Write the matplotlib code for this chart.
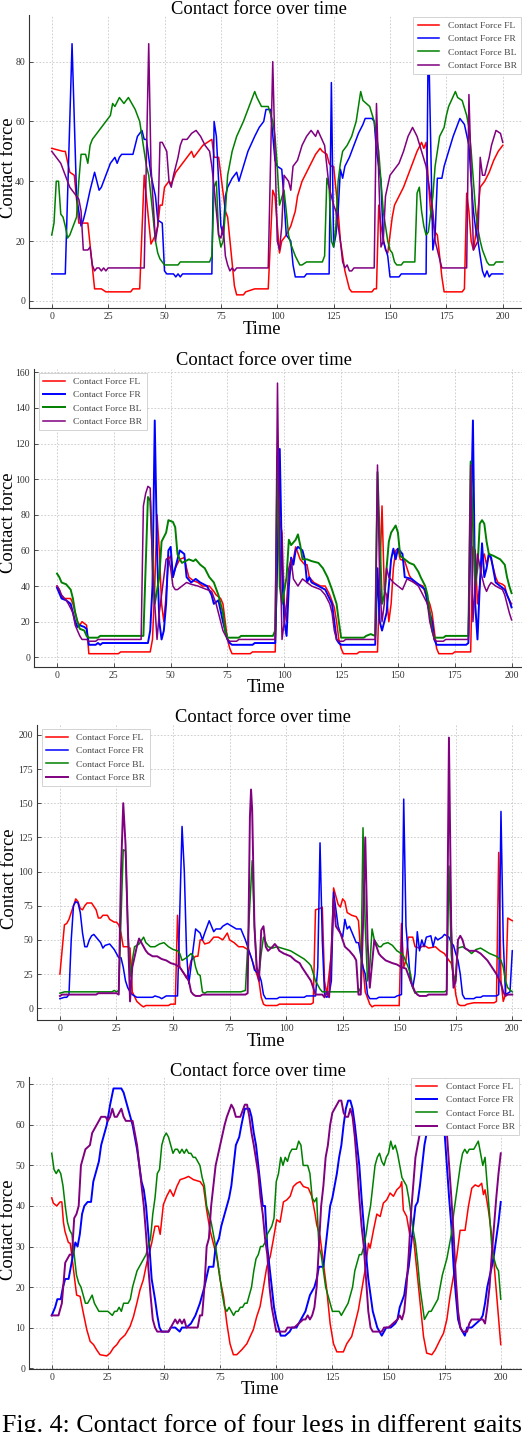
import matplotlib
matplotlib.use('Agg')
import matplotlib.pyplot as plt

plt.rcParams['font.family'] = ['Liberation Serif', 'DejaVu Serif']

# ---- data: (time, contact force) vertices ----
p1_fl = [(0,51),(5,50),(6,50),(8,43),(10,42),(12,26),(16,26),(19,4),(22,4),(24,3),(35,3),(36,4),(39,4),(41,42),(44,19),(46,22),(47,25),(48,32),(49,32),(50,38),(52,40),(53,39),(55,43),(58,46),(60,48),(62,50),(63,48),(65,50),(67,52),(69,53),(71,54),(72,48),(74,48),(75,42),(77,30),(78,28),(81,5),(82,2),(85,2),(86,3),(90,4),(96,4),(98,37),(99,35),(101,16),(102,20),(104,22),(106,25),(108,30),(109,35),(111,40),(113,43),(115,46),(117,49),(119,51),(120,50),(122,49),(123,46),(124,45),(125,45),(127,30),(128,20),(130,10),(132,4),(133,3),(142,3),(143,4),(144,4),(145,32),(146,25),(148,17),(149,16),(150,22),(151,28),(152,32),(154,35),(156,38),(158,42),(160,46),(161,48),(162,50),(164,53),(165,51),(166,53),(167,40),(168,30),(170,23),(171,22),(172,15),(173,8),(174,3),(182,3),(183,4),(184,36),(185,30),(186,20),(187,17),(188,22),(189,30),(190,38),(192,40),(194,43),(195,45),(196,47),(198,50),(200,52)]
p1_fr = [(0,9),(6,9),(9,86),(11,35),(13,25),(14,27),(15,30),(17,37),(19,43),(21,37),(22,38),(24,42),(26,46),(28,48),(29,46),(30,48),(31,49),(36,49),(37,52),(38,55),(40,57),(41,54),(42,54),(43,48),(44,42),(46,35),(47,27),(49,26),(50,10),(51,9),(54,9),(55,8),(56,9),(57,8),(58,9),(71,9),(72,60),(73,55),(74,40),(75,25),(76,22),(77,35),(78,38),(80,41),(82,43),(83,40),(85,45),(87,50),(90,55),(92,58),(94,60),(95,64),(97,64),(99,47),(100,45),(102,44),(103,34),(104,22),(106,20),(107,12),(108,8),(112,8),(113,9),(123,9),(124,73),(125,18),(126,22),(127,30),(128,44),(129,41),(130,45),(132,48),(134,52),(136,56),(138,59),(139,61),(142,61),(143,60),(144,50),(146,40),(147,20),(149,15),(150,8),(154,8),(155,9),(166,9),(167,92),(169,17),(170,22),(171,41),(173,41),(174,45),(176,50),(178,55),(180,59),(181,61),(183,59),(185,52),(186,40),(187,30),(188,24),(189,20),(191,10),(192,8),(193,10),(194,8),(195,9),(200,9)]
p1_bl = [(0,22),(1,26),(2,40),(3,40),(4,29),(5,28),(6,25),(7,21),(8,22),(10,26),(11,28),(12,40),(13,49),(15,49),(16,46),(17,52),(18,54),(20,56),(22,58),(24,60),(26,62),(27,66),(28,65),(30,68),(32,66),(34,68),(37,64),(39,60),(40,55),(42,45),(43,42),(44,35),(46,20),(47,16),(48,14),(49,13),(50,12),(56,12),(57,13),(70,13),(71,15),(72,38),(73,40),(74,22),(75,18),(76,20),(77,30),(78,42),(80,50),(82,55),(85,60),(87,64),(88,66),(90,70),(91,68),(93,65),(96,65),(98,60),(99,55),(100,45),(101,32),(103,37),(104,30),(105,22),(106,19),(107,17),(108,15),(110,12),(111,12),(113,13),(120,13),(121,15),(122,41),(123,38),(124,20),(125,18),(126,25),(127,40),(128,46),(129,50),(131,52),(133,55),(135,60),(136,65),(137,70),(138,67),(141,65),(143,60),(145,50),(146,40),(147,30),(148,25),(149,20),(150,17),(151,16),(152,13),(153,12),(155,12),(156,13),(161,13),(162,36),(163,38),(164,30),(165,25),(166,22),(167,23),(169,35),(170,45),(171,50),(172,55),(174,58),(175,62),(176,65),(179,70),(180,68),(182,67),(184,62),(185,58),(186,50),(187,40),(188,30),(189,24),(190,20),(191,17),(193,13),(194,12),(196,12),(197,13),(200,13)]
p1_br = [(0,50),(1,49),(2,48),(4,46),(5,44),(6,42),(8,38),(10,36),(12,34),(13,30),(14,17),(16,17),(17,18),(18,12),(19,10),(20,11),(21,11),(22,10),(23,11),(24,10),(25,11),(41,11),(43,86),(44,45),(46,20),(47,25),(48,53),(49,53),(51,50),(52,40),(53,38),(54,42),(56,48),(57,52),(58,54),(60,54),(62,56),(64,57),(66,55),(68,52),(70,50),(71,45),(72,38),(73,30),(74,22),(75,21),(76,25),(77,15),(78,12),(79,10),(80,11),(81,10),(82,11),(96,11),(98,80),(100,20),(101,17),(102,25),(103,42),(105,40),(106,37),(107,45),(109,47),(111,52),(113,55),(115,57),(117,55),(118,57),(121,52),(122,45),(123,38),(124,35),(125,32),(126,30),(127,25),(128,20),(129,13),(130,11),(131,12),(132,10),(133,10),(134,11),(143,11),(144,66),(146,18),(147,20),(148,35),(150,42),(152,44),(154,46),(156,50),(158,55),(160,58),(162,55),(164,50),(166,45),(167,40),(169,30),(170,20),(172,14),(173,11),(184,11),(185,69),(187,17),(189,20),(190,48),(191,42),(192,42),(194,48),(195,52),(197,57),(199,56),(200,53)]

p2_fl = [(0,40),(1,38),(2,34),(3,33),(6,33),(7,30),(8,25),(9,20),(10,18),(11,20),(12,19),(13,18),(14,2),(27,2),(28,3),(41,3),(42,10),(43,40),(44,80),(45,60),(46,30),(47,20),(48,35),(49,55),(50,57),(51,45),(52,50),(54,55),(56,56),(57,50),(58,45),(60,43),(62,42),(64,40),(67,40),(69,37),(70,35),(72,33),(73,30),(74,20),(75,10),(76,5),(77,2),(85,2),(86,3),(96,3),(97.5,80),(99,70),(100,30),(101,20),(102,45),(104,55),(105,62),(107,55),(109,52),(110,52),(111,45),(113,42),(116,40),(118,40),(120,35),(122,28),(123,20),(124,10),(125,5),(126,2),(132,2),(133,3),(141,3),(143,85),(144,38),(145,35),(146,20),(147,30),(148,50),(149,60),(150,61),(151,55),(153,54),(155,46),(157,42),(159,41),(161,40),(162,36),(163,33),(164,30),(165,25),(166,15),(167,5),(168,2),(174,2),(175,3),(182,3),(183,62),(184,60),(185,30),(186,40),(187,55),(188,58),(189,52),(190,58),(191,55),(192,50),(193,45),(194,42),(196,41),(197,40),(198,35),(199,32),(200,30)]
p2_fr = [(0,39),(1,36),(2,33),(4,32),(6,30),(7,25),(8,20),(9,17),(10,18),(12,17),(13,16),(14,7),(17,7),(18,8),(19,7),(20,8),(40,8),(41,15),(42,40),(43,133),(44,60),(45,20),(46,10),(47,15),(48,30),(49,60),(50,62),(51,45),(52,50),(54,60),(56,58),(57,45),(59,42),(61,44),(63,42),(66,40),(68,35),(69,30),(71,32),(73,20),(75,10),(76,8),(77,7),(86,7),(87,8),(96,8),(98,117),(99,50),(100,20),(101,12),(102,40),(103,56),(104,52),(105,60),(106,62),(108,60),(109,55),(110,42),(111,45),(112,42),(115,40),(118,38),(121,30),(122,20),(123,10),(124,8),(125,7),(140,7),(141,50),(142,20),(143,15),(145,25),(147,55),(148,61),(149,55),(150,61),(152,58),(153,45),(156,44),(158,42),(160,40),(162,38),(163,30),(165,20),(166,10),(167,7),(180,7),(181,8),(183,133),(184,30),(185,10),(186,40),(187,64),(188,45),(189,50),(190,58),(191,56),(193,42),(195,40),(197,38),(198,35),(199,32),(200,28)]
p2_bl = [(0,47),(1,45),(2,42),(4,41),(6,38),(7,33),(8,25),(9,20),(10,16),(12,15),(13,12),(14,11),(18,11),(19,12),(38,12),(40,90),(41,88),(43,30),(45,45),(46,65),(48,70),(49,77),(51,76),(52,73),(53,58),(54,55),(55,53),(58,55),(60,54),(61,55),(63,52),(65,50),(67,45),(69,42),(71,35),(73,25),(74,15),(75,11),(80,11),(81,12),(95,12),(96,15),(97,113),(98,40),(99,30),(101,45),(102,66),(103,63),(105,66),(106,69),(107,63),(108,55),(110,55),(112,54),(115,53),(117,50),(119,45),(121,38),(123,30),(124,20),(125,11),(135,11),(136,12),(138,13),(140,12),(141,104),(143,30),(144,35),(145,50),(146,65),(147,70),(149,74),(150,70),(151,57),(153,55),(155,53),(157,52),(159,48),(160,45),(162,40),(163,35),(164,25),(165,15),(166,11),(170,11),(171,12),(181,12),(182,110),(184,40),(185,50),(186,75),(187,77),(188,75),(189,65),(190,58),(192,57),(195,55),(197,52),(198,45),(199,40),(200,36)]
p2_br = [(0,40),(1,38),(2,35),(4,32),(5,30),(7,25),(8,18),(9,15),(10,12),(11,10),(13,10),(14,9),(17,9),(18,10),(37,10),(38,85),(39,92),(40,96),(41,95),(42,50),(44,10),(45,25),(47,45),(48,55),(49,56),(50,50),(51,40),(52,38),(53,38),(55,40),(57,42),(59,41),(62,40),(66,38),(68,37),(70,30),(71,25),(72,20),(73,15),(75,10),(76,9),(79,9),(80,10),(96,10),(97,154),(97.5,100),(99,10),(100,20),(101,30),(102,50),(103,55),(104,44),(106,40),(107,42),(108,44),(110,42),(112,40),(116,38),(118,35),(120,30),(121,25),(122,15),(123,10),(124,9),(126,9),(127,10),(140,10),(141,108),(142,40),(143,20),(144,30),(145,50),(146,45),(148,42),(150,40),(152,38),(154,44),(157,42),(159,40),(161,35),(163,30),(164,20),(166,10),(167,9),(170,9),(171,10),(181,10),(182,108),(183,20),(184,40),(185,58),(187,45),(188,40),(189,37),(190,40),(191,42),(193,40),(196,38),(197,35),(198,30),(199,25),(200,21)]

p3_fl = [(0,25),(2,61),(3,62),(4,65),(5,70),(6,75),(7,80),(8,78),(9,73),(10,72),(11,75),(12,77),(14,77),(16,72),(17,66),(18,66),(19,68),(21,68),(22,65),(24,63),(25,63),(26,61),(27,55),(28,45),(30,45),(31,44),(32,12),(34,5),(36,2),(37,1),(38,2),(48,2),(49,3),(51,3),(52,68),(53,30),(55,25),(56,22),(57,28),(58,35),(60,38),(61,38),(62,50),(63,50),(64,47),(66,48),(68,52),(70,52),(72,50),(74,55),(75,50),(77,48),(79,45),(81,45),(83,43),(84,40),(85,35),(86,30),(87,25),(88,20),(89,8),(90,3),(91,2),(96,2),(97,3),(111,3),(112,4),(113,72),(115,73),(116,74),(117,20),(118,10),(120,40),(121,88),(123,76),(124,74),(125,80),(126,78),(127,70),(129,68),(131,67),(132,64),(133,40),(134,30),(135,12),(137,3),(138,1),(139,2),(150,2),(151,62),(152,30),(153,35),(154,52),(156,52),(157,45),(159,44),(161,46),(163,44),(166,45),(168,42),(170,40),(172,35),(173,33),(174,25),(175,10),(176,3),(177,2),(179,2),(180,3),(183,4),(192,4),(193,5),(194,114),(195,20),(196,5),(197,10),(198,66),(200,64)]
p3_fr = [(0,7),(2,8),(3,8),(4,10),(5,50),(6,75),(7,78),(8,77),(9,70),(10,55),(11,45),(12,45),(13,50),(14,53),(15,54),(17,50),(18,48),(19,44),(20,46),(22,47),(24,43),(25,40),(26,37),(27,37),(28,30),(29,20),(30,15),(31,12),(32,10),(33,9),(34,8),(41,8),(42,9),(44,8),(45,7),(46,8),(47,9),(52,9),(54,133),(55,100),(56,40),(57,18),(59,45),(60,58),(62,55),(63,50),(64,55),(66,64),(67,60),(68,56),(69,58),(71,58),(72,60),(74,62),(76,60),(78,58),(80,58),(82,50),(83,45),(85,35),(86,28),(88,25),(89,20),(90,10),(91,7),(96,7),(97,8),(108,8),(109,9),(113,9),(114,30),(115,121),(116,50),(117,10),(118,8),(119,10),(120,20),(121,85),(123,60),(124,55),(125,52),(126,65),(127,58),(128,60),(130,52),(131,48),(132,48),(134,30),(135,25),(136,10),(137,7),(140,7),(141,8),(148,8),(149,9),(151,10),(152,153),(153,60),(155,20),(156,15),(157,25),(158,56),(159,42),(160,50),(161,45),(162,52),(164,53),(165,45),(166,52),(167,50),(169,52),(170,54),(172,52),(173,48),(174,46),(175,40),(176,35),(177,25),(178,10),(179,7),(183,7),(184,8),(186,8),(187,9),(193,9),(194,10),(195,144),(196,50),(197,10),(199,12),(200,42)]
p3_bl = [(0,11),(2,12),(23,12),(24,13),(25,12),(26,13),(28,116),(29,115),(30,60),(31,23),(32,35),(33,45),(35,47),(37,52),(38,48),(40,45),(42,45),(44,47),(46,48),(48,45),(50,43),(52,42),(53,40),(54,35),(56,37),(58,40),(59,38),(60,30),(61,25),(62,24),(63,12),(64,11),(65,12),(80,12),(82,13),(85,108),(86,60),(87,30),(88,25),(89,40),(90,52),(92,45),(94,44),(96,45),(98,44),(100,43),(102,42),(104,40),(106,38),(108,36),(110,33),(111,31),(113,20),(115,14),(116,12),(132,12),(133,15),(134,132),(135,60),(136,20),(137,30),(138,58),(139,50),(141,45),(142,45),(143,47),(145,48),(147,46),(149,42),(151,40),(152,38),(154,30),(155,25),(156,15),(157,11),(158,12),(170,12),(171,13),(172,104),(173,40),(174,20),(175,25),(176,44),(178,45),(180,43),(182,40),(184,43),(186,44),(188,42),(190,40),(193,38),(195,35),(196,30),(197,20),(198,15),(200,12)]
p3_br = [(0,9),(1,10),(16,10),(17,11),(25,11),(26,10),(27,100),(28,150),(29,120),(30,60),(31,5),(32,30),(34,45),(35,51),(36,48),(38,42),(39,40),(41,38),(43,38),(45,36),(47,35),(49,33),(51,32),(53,30),(55,25),(57,20),(58,12),(59,10),(60,9),(62,9),(63,10),(82,10),(83,11),(84,140),(84.5,160),(85,145),(86,60),(87,30),(88,20),(89,57),(90,60),(91,45),(92,42),(94,45),(95,47),(96,45),(97,42),(99,40),(102,38),(104,35),(106,33),(107,30),(109,25),(111,20),(113,10),(116,10),(117,8),(118,12),(119,8),(120,40),(121,80),(122,60),(124,55),(126,45),(128,42),(130,38),(131,35),(132,10),(133,10),(134,60),(135,125),(136,50),(137,15),(139,50),(141,40),(142,38),(144,35),(147,33),(149,32),(151,30),(153,29),(155,20),(157,12),(158,10),(159,9),(162,9),(163,10),(171,10),(172,198),(173,60),(174,15),(175,20),(176,50),(177,53),(178,50),(179,44),(181,42),(184,42),(186,40),(189,35),(191,30),(193,25),(195,18),(196,12),(197,9),(198,10),(200,10)]

p4_fl = [(0,42),(0.7,40.7),(2.2,40),(3.7,41),(4.5,41),(5.2,36),(5.9,33.7),(7.4,31),(8.2,30.8),(8.9,28),(10.4,21),(11.1,18),(12.6,17.7),(14.1,13.5),(15.6,9.5),(17.1,6.6),(18.6,5.8),(20,4.5),(21.5,3.3),(24.5,3),(26,3.7),(27.5,5),(29,5.8),(30.4,7),(32.7,8.2),(34.9,10.3),(36.4,12.7),(37.9,16),(39.3,19.3),(40.8,21.8),(42.3,25.9),(44.5,30.8),(46,35),(47.5,35),(48.3,33),(49.7,40.3),(51.2,42.4),(52.7,44),(54.2,42.4),(55.7,44.8),(57.2,46.5),(59.4,46.9),(60.9,47.3),(63.1,46.5),(66.1,46),(67.6,44.8),(69,39),(70.5,34),(72,30.8),(73.5,27.5),(75,21.8),(76.5,17.7),(78,11),(79.4,6),(80.9,3.3),(82.4,3.3),(84.6,4.5),(86.9,6),(89.8,9.5),(91.3,12.7),(92.8,15.2),(94.3,20),(95.8,25),(97.3,27.5),(98.7,31.7),(100.2,36.6),(101.7,36),(103.2,41),(104.7,41.5),(106.2,42.4),(107.6,44.8),(109.1,45.6),(110.6,46),(112.1,44.8),(114.3,44.4),(115.8,42.4),(117.3,38),(118,35.4),(119.5,32.5),(121,25.9),(122.5,19.3),(124,11),(125.5,6),(127,4),(129.9,4),(131.4,6),(133.6,7.8),(135.1,11),(136.6,14.4),(138.1,19.3),(139.6,24.3),(141.1,30.8),(141.8,29.6),(143.3,34),(144.8,38),(146.3,37.4),(147.7,40.7),(149.2,41.5),(150.7,43.2),(152.2,42.4),(153.7,44),(155.2,44.8),(155.9,46),(156.6,39),(158.1,37.4),(159.6,32.5),(161.1,32.5),(162.6,24.3),(164.1,16),(165.6,7.8),(167,3.7),(169.3,3.3),(170.8,4.5),(173,7),(174.5,8.6),(176,12),(177.4,17.7),(178.9,22.6),(180.4,27.5),(181.9,34),(184.1,34),(185.6,39.9),(187.1,44.4),(188.6,45.2),(190.1,44.8),(191.5,45.6),(192.3,42.8),(193,44),(194.5,39),(196,32.5),(197.5,22.6),(199,12.7),(200,5.8)]
p4_fr = [(0,13),(1.5,15),(2.5,17),(4,17),(5,20),(6,22),(7.5,22),(8.5,25),(9.5,28),(10.5,31),(11.5,30),(12.5,33),(13.5,38),(14.5,40),(16,41),(17.5,41),(18.5,46),(19.5,48),(21,51),(22,55),(23,57),(24.5,60),(26,65),(27.5,69),(31,69),(32,68),(33,66),(35,62),(36,60),(37,57),(38,54),(39,50),(40,46),(41,44),(42,40),(43.5,30),(44.5,22),(46,17),(47,13),(48,10),(49,9),(52,9),(53,10),(55,10),(57,9),(58,10),(60,10),(62,11),(63,12),(64,13),(66,16),(67,18),(68,20),(70,25),(72,25),(73,30),(74.5,32),(75.5,35),(77,38),(78,40),(79,42),(80,45),(81,50),(82,55),(83.5,57),(84.5,60),(86,64),(88,64),(89,62),(90,58),(91,55),(92,50),(93,45),(94,40),(95,40),(96,30),(97,25),(98,20),(99,15),(100,12),(101,10),(102,8),(104,8),(106,9),(107,10),(109,10),(110,11),(112,13),(113,14),(114,16),(115,18),(117,20),(118,22),(119,25),(121,25),(122,30),(123,35),(124,40),(125,42),(126,45),(127,48),(128,52),(129,55),(130,60),(131,64),(132,66),(133,66),(134,64),(135,60),(136,55),(137,50),(138,42),(139,35),(140,28),(141,22),(142,18),(143,14),(144,12),(145,10),(147,8),(148,9),(149,10),(151,10),(153,11),(154,12),(155,15),(157,18),(158,22),(159,25),(160,30),(161,35),(162,40),(163,41),(164,45),(165,50),(166,55),(167,58),(168,62),(170,65),(172,66),(173,65),(174,62),(175,58),(176,50),(177,42),(178,35),(179,25),(180,18),(181,12),(182,10),(184,8),(185,10),(187,10),(189,11),(191,12),(192,13),(193,16),(194,20),(196,25),(197,28),(198,32),(199,36),(200,41)]
p4_bl = [(0,53),(1,49),(2,48),(3,49),(4,48),(5,45),(6,40),(7,36),(8,34),(9,33),(10,28),(11,23),(12,21),(13,20),(14,18),(15,16),(16,16),(17,17),(18,18),(19,16),(20,15),(21,14),(23,14),(25,14),(27,13),(28,14),(29,14),(30,15),(31,14),(32,16),(34,16),(35,17),(36,20),(37,22),(38,24),(39,25),(40,26),(42,28),(43,30),(44,32),(45,38),(46,42),(47,48),(48,49),(49,55),(50,57),(51,58),(52,57),(53,55),(54,53),(55,54),(56,54),(57,53),(58,54),(59,53),(60,54),(61,53),(62,53),(63,52),(64,52),(65,51),(66,50),(67,47),(68,45),(69,40),(70,38),(71,36),(72,33),(73,30),(74,26),(75,22),(76,18),(77,15),(78,14),(79,15),(80,14),(81,13),(82,14),(83,14),(84,15),(85,15),(86,16),(87,16),(88,18),(89,20),(90,24),(91,27),(92,28),(93,30),(94,30),(95,31),(96,33),(97,34),(98,35),(99,37),(100,46),(101,48),(102,52),(103,50),(104,52),(105,51),(106,53),(107,54),(109,54),(110,56),(111,55),(112,50),(114,50),(115,48),(116,42),(117,41),(118,42),(119,30),(120,28),(121,24),(122,20),(123,18),(124,16),(125,14),(128,14),(129,13),(130,14),(131,15),(132,16),(133,18),(134,20),(135,24),(136,26),(137,28),(138,28),(139,30),(140,33),(141,37),(142,40),(143,45),(144,50),(145,52),(146,53),(147,51),(148,50),(149,52),(150,53),(151,56),(152,54),(153,55),(154,53),(155,50),(156,47),(157,46),(158,45),(159,42),(160,38),(161,34),(162,31),(163,26),(164,20),(165,16),(166,12),(167,13),(168,14),(169,14),(170,15),(171,16),(172,17),(173,20),(174,23),(175,25),(176,27),(177,30),(178,33),(179,38),(180,42),(181,46),(182,50),(183,53),(184,54),(185,53),(186,54),(188,54),(190,56),(191,53),(192,50),(193,52),(194,45),(195,38),(196,30),(197,27),(198,25),(199,24),(200,17)]
p4_br = [(0,13),(3,13),(4.5,16),(6,26),(8,28),(9,28),(10,37),(11,38),(12,40),(13,50),(14,52),(15,54),(17,55),(18,58),(20,60),(22,62),(24,62),(25,61),(26,62),(27,64),(28,62),(29,62),(30,63),(31,64),(32,62),(33,61),(36,61),(37,58),(38,55),(39,50),(40,45),(41,40),(42,33),(43,25),(44,18),(45,12),(46,10),(47,9),(52,9),(53,10),(55,12),(56,11),(57,12),(58,11),(59,12),(60,10),(65,10),(66,13),(67,13),(68,20),(69,30),(70,32),(71,40),(72,45),(73,50),(75,55),(77,60),(78,62),(80,65),(81,64),(82,62),(84,62),(86,65),(87,65),(88,62),(89,58),(90,55),(92,48),(93,42),(94,38),(95,32),(96,28),(97,20),(98,15),(99,12),(100,9),(104,9),(105,10),(108,10),(110,11),(112,12),(113,12),(114,13),(115,12),(116,13),(117,15),(118,20),(119,30),(120,40),(121,45),(122,52),(123,55),(124,60),(125,63),(126,64),(127,65),(128,66),(129,66),(130,63),(131,62),(132,62),(133,64),(134,62),(135,57),(136,50),(137,42),(138,35),(139,30),(140,22),(141,14),(142,10),(143,9),(147,9),(148,10),(150,10),(152,11),(154,12),(155,13),(156,12),(157,14),(158,20),(159,28),(160,38),(161,45),(162,52),(163,55),(164,58),(165,60),(166,62),(167,63),(168,64),(169,62),(170,63),(171,65),(172,66),(173,65),(174,64),(175,62),(176,58),(177,50),(178,42),(179,33),(180,22),(181,14),(182,10),(183,9),(185,9),(186,11),(187,12),(192,12),(193,11),(194,15),(195,20),(196,28),(197,35),(198,42),(199,48),(200,53)]

labels = ['Contact Force FL', 'Contact Force FR', 'Contact Force BL', 'Contact Force BR']
colors = ['red', 'blue', 'green', 'purple']
x_ticks = [0, 25, 50, 75, 100, 125, 150, 175, 200]
y_ticks = [[0, 20, 40, 60, 80],
           [0, 20, 40, 60, 80, 100, 120, 140, 160],
           [0, 25, 50, 75, 100, 125, 150, 175, 200],
           [0, 10, 20, 30, 40, 50, 60, 70]]
panels = [[p1_fl, p1_fr, p1_bl, p1_br],
          [p2_fl, p2_fr, p2_bl, p2_br],
          [p3_fl, p3_fr, p3_bl, p3_br],
          [p4_fl, p4_fr, p4_bl, p4_br]]

W, H = 522, 1432
fig = plt.figure(figsize=(W / 100, H / 100), dpi=100)

# layout in pixels: axes box (left, top, right, bottom), ylim, legend, title / label centres
layout = [
    dict(box=(29.2, 15, 525.3, 308), ylim=(-2.4, 95.6), leg=('upper right', 521, 17),
         title=(259, 9.5), ylab=(8.5, 168), xlab=(262, 330), lw=[1.1, 1.1, 1.1, 1.1]),
    dict(box=(34.3, 369, 534.3, 666.7), ylim=(-5.3, 161.9), leg=('upper left', 39, 373),
         title=(264, 360.5), ylab=(8.5, 523), xlab=(266, 687), lw=[1.1, 1.4, 1.4, 1.1]),
    dict(box=(37.3, 725, 534.9, 1020), ylim=(-8.6, 207.2), leg=('upper left', 42, 729),
         title=(263, 717.5), ylab=(10, 879), xlab=(266, 1042), lw=[1.1, 1.1, 1.1, 1.4]),
    dict(box=(29.3, 1076.7, 523.2, 1369.3), ylim=(-0.3, 71.9), leg=('upper right', 519, 1078),
         title=(257.5, 1071.5), ylab=(8.5, 1230), xlab=(260, 1389), lw=[1.1, 1.4, 1.1, 1.4]),
]

for i in range(4):
    lay = layout[i]
    left, top, right, bottom = lay['box']
    ax = fig.add_axes([left / W, 1 - bottom / H, (right - left) / W, (bottom - top) / H])
    for k in range(4):
        t = [p[0] for p in panels[i][k]]
        f = [p[1] for p in panels[i][k]]
        ax.plot(t, f, color=colors[k], lw=lay['lw'][k], label=labels[k])
    ax.set_xlim(-10, 210)
    ax.set_ylim(*lay['ylim'])
    ax.set_xticks(x_ticks)
    ax.set_yticks(y_ticks[i])
    ax.grid(True, color='#c8c8c8', linestyle=(0, (2, 2)), linewidth=0.6)
    ax.set_axisbelow(True)
    ax.spines['top'].set_visible(False)
    ax.spines['right'].set_visible(False)
    ax.spines['left'].set_color('#333333')
    ax.spines['bottom'].set_color('#333333')
    ax.tick_params(direction='in', length=3, width=0.6, labelsize=7, colors='#333333', pad=3)

    loc, lx, ly = lay['leg']
    leg = ax.legend(loc=loc, bbox_to_anchor=(lx / W, 1 - ly / H), bbox_transform=fig.transFigure,
                    fontsize=6.8, frameon=True, fancybox=False, edgecolor='#cccccc', framealpha=1,
                    borderaxespad=0, handlelength=2.3, labelspacing=0.5, borderpad=0.45,
                    handletextpad=0.9)
    leg.get_frame().set_linewidth(0.6)
    for txt in leg.get_texts():
        txt.set_color('#444444')

    tx, ty = lay['title']
    fig.text(tx / W, 1 - ty / H, 'Contact force over time', fontsize=13.3, ha='center', va='center')
    yx, yy = lay['ylab']
    fig.text(yx / W, 1 - yy / H, 'Contact force', fontsize=13.3, rotation=90, ha='center', va='center')
    xx, xy = lay['xlab']
    fig.text(xx / W, 1 - xy / H, 'Time', fontsize=13.3, ha='center', va='center')

fig.text(2 / W, 0.0, 'Fig. 4: Contact force of four legs in different gaits',
         fontsize=18.7, ha='left', va='baseline')

fig.savefig('out.png', dpi=100)
